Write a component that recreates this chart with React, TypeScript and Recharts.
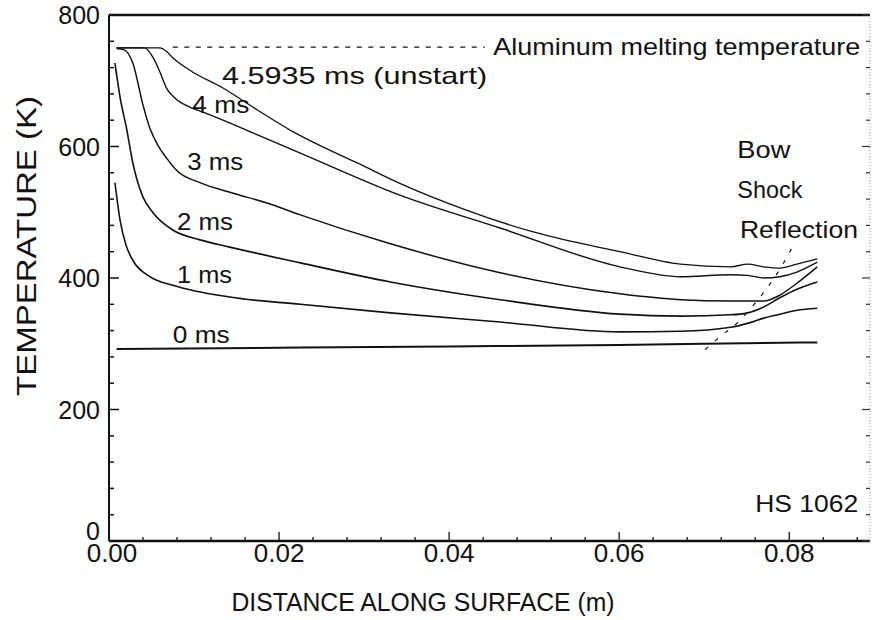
import React from "react";
import { LineChart, Line, XAxis, YAxis, ReferenceLine, ReferenceDot } from "recharts";

// [distance along surface (m), temperature (K)]
const curve0ms = [
  [0.0009, 292], [0.02, 294], [0.04, 296], [0.06, 298], [0.07, 300], [0.0833, 302],
];
const curve1ms = [
  [0.0007, 545], [0.0013, 488], [0.002, 450], [0.0028, 427], [0.0048, 402], [0.0075, 389],
  [0.0142, 371], [0.0225, 360], [0.0331, 347], [0.046, 333], [0.0601, 318], [0.0672, 319],
  [0.0731, 325], [0.0751, 331], [0.077, 339], [0.0789, 345], [0.0809, 351], [0.0833, 354],
];
const curve2ms = [
  [0.0007, 727], [0.0013, 675], [0.0021, 625], [0.0028, 575], [0.0033, 549], [0.004, 523],
  [0.0052, 499], [0.0075, 473], [0.0107, 458], [0.0142, 447], [0.0225, 423], [0.0331, 394],
  [0.046, 367], [0.0601, 345], [0.0672, 342], [0.0731, 344], [0.0751, 347], [0.077, 356],
  [0.0789, 370], [0.0809, 383], [0.0833, 394],
];
const curve3ms = [
  [0.0009, 749], [0.0018, 747], [0.0028, 727], [0.004, 663], [0.0048, 628], [0.0057, 603],
  [0.0068, 582], [0.008, 563], [0.0107, 545], [0.0146, 529], [0.0186, 514], [0.0225, 496],
  [0.0331, 452], [0.046, 408], [0.0601, 376], [0.0672, 367], [0.0731, 365], [0.077, 365],
  [0.0789, 374], [0.0809, 392], [0.0833, 417],
];
const curve4ms = [
  [0.0009, 750], [0.0042, 750], [0.0051, 737], [0.006, 713], [0.0068, 688], [0.0078, 673],
  [0.0095, 660], [0.0113, 651], [0.0134, 640], [0.0174, 618], [0.0225, 590], [0.0342, 526],
  [0.046, 476], [0.0601, 417], [0.0672, 402], [0.0731, 405], [0.0751, 404], [0.077, 400],
  [0.0789, 402], [0.0809, 409], [0.0833, 424],
];
const curveUnstart = [
  [0.0009, 750], [0.006, 750], [0.0068, 744], [0.0075, 735], [0.0095, 716], [0.0134, 689],
  [0.0174, 656], [0.0213, 625], [0.0252, 599], [0.0292, 575], [0.0342, 544], [0.0421, 503],
  [0.0499, 470], [0.0601, 440], [0.0672, 421], [0.0731, 417], [0.0751, 421], [0.077, 417],
  [0.0789, 415], [0.0809, 421], [0.0833, 429],
];
const meltingLine = [[0.0075, 751], [0.0442, 751]];
const bowShockLine = [
  [0.0701, 291], [0.0719, 311], [0.074, 333], [0.076, 362], [0.0778, 392], [0.0792, 420], [0.0805, 450],
];

const xTicks = [
  0, 0.004, 0.008, 0.012, 0.016, 0.02, 0.024, 0.028, 0.032, 0.036, 0.04, 0.044,
  0.048, 0.052, 0.056, 0.06, 0.064, 0.068, 0.072, 0.076, 0.08, 0.084, 0.088,
];
const yTicks = [
  0, 40, 80, 120, 160, 200, 240, 280, 320, 360, 400, 440, 480, 520, 560, 600, 640, 680, 720, 760, 800,
];

const notes = [
  { text: "4.5935 ms (unstart)", x: 0.0133, t: 695 },
  { text: "4 ms", x: 0.0098, t: 651 },
  { text: "3 ms", x: 0.0092, t: 564 },
  { text: "2 ms", x: 0.008, t: 473 },
  { text: "1 ms", x: 0.008, t: 392 },
  { text: "0 ms", x: 0.0075, t: 301 },
  { text: "Aluminum melting temperature", x: 0.0452, t: 739 },
  { text: "Bow", x: 0.0739, t: 582 },
  { text: "Shock", x: 0.0739, t: 522 },
  { text: "Reflection", x: 0.0742, t: 461 },
  { text: "HS 1062", x: 0.076, t: 44 },
];

// rendered widths of the scanned lettering
const noteWidths: Record<string, number> = {
  "4.5935 ms (unstart)": 265,
  "4 ms": 57,
  "3 ms": 56,
  "2 ms": 56,
  "1 ms": 55,
  "0 ms": 57,
  "Aluminum melting temperature": 367,
  Bow: 53,
  Shock: 65,
  Reflection: 118,
  "HS 1062": 103,
};

const FONT = '"Liberation Sans", Arial, Helvetica, sans-serif';
const INK = "#111";

const toPoints = (rows: number[][]) => rows.map(([x, t]) => ({ x, t }));

const isMajor = (v: number, step: number) => Math.abs(v / step - Math.round(v / step)) < 1e-6;

function LeftTick({ x, y, payload }: any) {
  const v = payload.value;
  const major = isMajor(v, 200);
  return (
    <g>
      <line x1={x} x2={x + (major ? 10 : 5)} y1={y} y2={y} stroke={INK} strokeWidth={1.5} />
      {major && (
        <text x={x - 9} y={y + 9 - (v === 0 ? 10 : 0)} textAnchor="end" fontSize={25} fontFamily={FONT} fill={INK}>
          {v}
        </text>
      )}
    </g>
  );
}

function RightTick({ x, y, payload }: any) {
  const major = isMajor(payload.value, 200);
  return <line x1={x} x2={x - (major ? 8 : 4)} y1={y} y2={y} stroke="#333" strokeWidth={1.2} />;
}

function BottomTick({ x, y, payload }: any) {
  const v = payload.value;
  const major = isMajor(v, 0.02);
  return (
    <g>
      <line x1={x} x2={x} y1={y} y2={y - (major ? 9 : 4)} stroke={INK} strokeWidth={1.3} />
      {major && (
        <text x={x + (v === 0 ? 3 : 0)} y={y + 21} textAnchor="middle" fontSize={26} fontFamily={FONT} fill={INK}>
          {v.toFixed(2)}
        </text>
      )}
    </g>
  );
}

function XTitle({ viewBox }: any) {
  const vb = viewBox || { x: 109, y: 541 };
  return (
    <text
      x={vb.x + 314}
      y={vb.y + 70}
      textAnchor="middle"
      fontSize={25}
      fontFamily={FONT}
      fill={INK}
      textLength={383}
      lengthAdjust="spacingAndGlyphs"
    >
      DISTANCE ALONG SURFACE (m)
    </text>
  );
}

function YTitle({ viewBox }: any) {
  const vb = viewBox || { x: 0, y: 15 };
  const cx = vb.x + 36;
  const cy = vb.y + 231;
  return (
    <text
      x={cx}
      y={cy}
      transform={`rotate(-90 ${cx} ${cy})`}
      textAnchor="middle"
      fontSize={27}
      fontFamily={FONT}
      fill={INK}
      textLength={300}
      lengthAdjust="spacingAndGlyphs"
    >
      TEMPERATURE (K)
    </text>
  );
}

function NoteText({ cx, cy, text }: any) {
  return (
    <text
      x={cx}
      y={cy}
      fontSize={24}
      fontFamily={FONT}
      fill={INK}
      textLength={noteWidths[text]}
      lengthAdjust="spacingAndGlyphs"
    >
      {text}
    </text>
  );
}

const curves = [
  { key: "0ms", rows: curve0ms, width: 2 },
  { key: "1ms", rows: curve1ms, width: 1.6 },
  { key: "2ms", rows: curve2ms, width: 1.6 },
  { key: "3ms", rows: curve3ms, width: 1.5 },
  { key: "4ms", rows: curve4ms, width: 1.4 },
  { key: "unstart", rows: curveUnstart, width: 1.3 },
];

export default function App() {
  return (
    <div style={{ position: "absolute", left: 0, top: 0, width: 872, height: 620, background: "#fff" }}>
      <LineChart width={872} height={620} margin={{ top: 15, right: 0, bottom: 0, left: 0 }}>
        <XAxis
          xAxisId="x"
          type="number"
          dataKey="x"
          domain={[0, 0.0895]}
          allowDataOverflow
          ticks={xTicks}
          interval={0}
          height={79}
          tickSize={0}
          tickMargin={0}
          tickLine={false}
          axisLine={{ stroke: INK, strokeWidth: 2.5 }}
          tick={<BottomTick />}
          label={<XTitle />}
        />
        <YAxis
          yAxisId="y"
          type="number"
          domain={[0, 800]}
          allowDataOverflow
          ticks={yTicks}
          interval={0}
          width={109}
          tickSize={0}
          tickMargin={0}
          tickLine={false}
          axisLine={{ stroke: INK, strokeWidth: 2 }}
          tick={<LeftTick />}
          label={<YTitle />}
        />
        <YAxis
          yAxisId="yr"
          orientation="right"
          type="number"
          domain={[0, 800]}
          allowDataOverflow
          ticks={yTicks}
          interval={0}
          width={2}
          tickSize={0}
          tickMargin={0}
          tickLine={false}
          axisLine={{ stroke: "#999", strokeWidth: 1, strokeDasharray: "1 2" }}
          tick={<RightTick />}
        />
        <ReferenceLine xAxisId="x" yAxisId="y" y={800} stroke={INK} strokeWidth={2.5} />
        {curves.map((c) => (
          <Line
            key={c.key}
            xAxisId="x"
            yAxisId="y"
            data={toPoints(c.rows)}
            dataKey="t"
            type="monotone"
            stroke={INK}
            strokeWidth={c.width}
            dot={false}
            isAnimationActive={false}
          />
        ))}
        <Line
          xAxisId="x"
          yAxisId="y"
          data={toPoints(meltingLine)}
          dataKey="t"
          type="linear"
          stroke={INK}
          strokeWidth={1.3}
          strokeDasharray="5 6.5"
          dot={false}
          isAnimationActive={false}
        />
        <Line
          xAxisId="x"
          yAxisId="y"
          data={toPoints(bowShockLine)}
          dataKey="t"
          type="monotone"
          stroke={INK}
          strokeWidth={1.2}
          strokeDasharray="4 9"
          dot={false}
          isAnimationActive={false}
        />
        {notes.map((n) => (
          <ReferenceDot
            key={n.text}
            xAxisId="x"
            yAxisId="y"
            x={n.x}
            y={n.t}
            r={0}
            ifOverflow="visible"
            shape={(p: any) => <NoteText {...p} text={n.text} />}
          />
        ))}
      </LineChart>
    </div>
  );
}
